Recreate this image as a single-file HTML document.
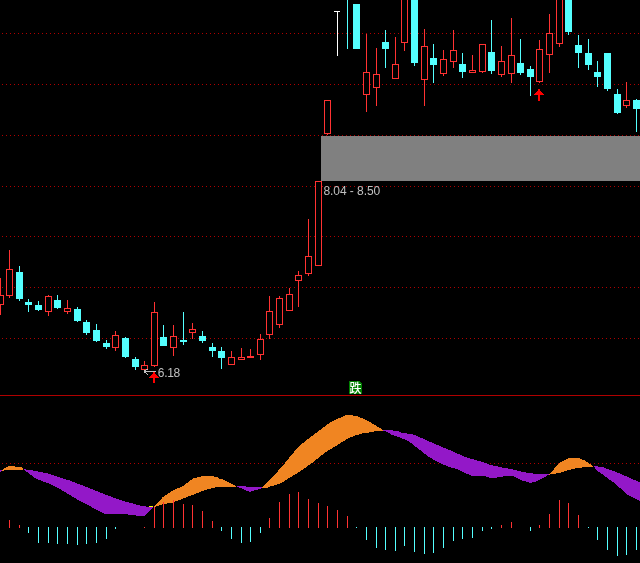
<!DOCTYPE html>
<html><head><meta charset="utf-8"><title>chart</title>
<style>
html,body{margin:0;padding:0;background:#000;}
body{width:640px;height:563px;overflow:hidden;}
svg{display:block;font-family:"Liberation Sans","Noto Sans CJK SC",sans-serif;}
</style></head><body>
<svg width="640" height="563" viewBox="0 0 640 563" shape-rendering="crispEdges">
<rect x="0" y="0" width="640" height="563" fill="#000"/>
<line x1="2" y1="33.5" x2="640" y2="33.5" stroke="#b00000" stroke-width="1" stroke-dasharray="1 3"/>
<line x1="2" y1="84.5" x2="640" y2="84.5" stroke="#b00000" stroke-width="1" stroke-dasharray="1 3"/>
<line x1="2" y1="135.5" x2="640" y2="135.5" stroke="#b00000" stroke-width="1" stroke-dasharray="1 3"/>
<line x1="2" y1="186.5" x2="640" y2="186.5" stroke="#b00000" stroke-width="1" stroke-dasharray="1 3"/>
<line x1="2" y1="236.5" x2="640" y2="236.5" stroke="#b00000" stroke-width="1" stroke-dasharray="1 3"/>
<line x1="2" y1="287.5" x2="640" y2="287.5" stroke="#b00000" stroke-width="1" stroke-dasharray="1 3"/>
<line x1="2" y1="338.5" x2="640" y2="338.5" stroke="#b00000" stroke-width="1" stroke-dasharray="1 3"/>
<line x1="2" y1="463.5" x2="640" y2="463.5" stroke="#b00000" stroke-width="1" stroke-dasharray="1 3"/>
<rect x="321" y="136" width="319" height="45" fill="#808080"/>
<rect x="0" y="395" width="640" height="1" fill="#b00000"/>
<polygon points="2,470 5.25,468 9.2,466 14.4,466 15.75,467 20.5,467 23.2,468 23.2,470 6,470 2,471" fill="#f08522"/>
<polygon points="23,469 34,470.6 40,472 50,474 60,477.5 70,480.6 80,484.5 100,492.5 120,500 140,505.6 149,507 153.75,506.5 153.75,506.5 144.4,516 140,516 131,514.75 121,514 105,514 92.5,507.5 80,501 70,495 60,489 50,484 36,478.75 23,469" fill="#9318c8"/>
<polygon points="154,506 162.5,497.5 172.5,490.6 182.5,486.25 192.5,478.75 202.5,476 212.5,476 217,477.2 220,479 222.5,479 230,483 236.2,486 236.2,487 226,487 220,486.6 212.5,488 202.5,491 192.5,495 182.5,498.75 172.5,502.5 163.75,504 154,507" fill="#f08522"/>
<polygon points="236.2,486 245.8,486 245.8,487 262,487 262,488 256,490 249.75,492 243,489.2 236.2,486" fill="#9318c8"/>
<polygon points="262,487 271,478.75 282.5,466 292.5,453.75 300,445.3 310,437.5 320,430 330,422.5 337.5,418.75 346,415.25 351,415.25 357.5,416.25 367.5,420.6 375,425 383,430 383,431 374,431 374,432 369,432 369,433 365,433 362,433.6 355,435.6 347.5,438.75 337.5,445 325,452.5 312.5,462.5 300,471.5 290,477.5 280,483.75 271,486.3 266.5,488 262,488" fill="#f08522"/>
<polygon points="383,430 391.4,430.3 397.5,431 402,433 411.5,434 416,435.5 426,440 437.5,445 452.5,451.25 465,457 477.5,460.6 486,463 490,464.75 502.5,467.5 512.5,469.4 522.5,472 535,473.75 548.75,474.4 548.75,474.75 537,481.25 530.6,483 522.5,480.6 513,476.25 505,476.25 495.6,477.75 490,477.75 484,476 471,475.6 457.5,469.4 447.5,466.25 437.5,462 427.5,456 420,450 416.75,447.6 411.5,443.25 407,440.2 401,438 392.25,435 387,432 383,430.3" fill="#9318c8"/>
<polygon points="548.75,474.5 560,462.75 568.75,458 579,458 585,460.6 593.2,466 593.2,467 585,467 576,468.3 568,470.3 560,472.8 548.75,474.75" fill="#f08522"/>
<polygon points="593.2,466 601.5,466.8 613,470.75 623.4,475 633,479.5 640,482.3 640,500.75 633,497.4 627,494.4 620.75,488.7 613,482 606,477 598,471.2 593.2,466" fill="#9318c8"/>
<polygon points="0,470 2,470 2,471 0,472" fill="#9318c8"/>
<rect x="149" y="506" width="4" height="1" fill="#ffff00"/>
<rect x="0" y="278" width="1" height="37" fill="#ff3232"/>
<rect x="-2.5" y="295.5" width="6" height="9" fill="#000" stroke="#ff3232" stroke-width="1"/>
<rect x="9" y="250" width="1" height="48" fill="#ff3232"/>
<rect x="6.5" y="269.5" width="6" height="26" fill="#000" stroke="#ff3232" stroke-width="1"/>
<rect x="19" y="266" width="1" height="35" fill="#54ffff"/>
<rect x="16" y="272" width="7" height="27" fill="#54ffff"/>
<rect x="28" y="299" width="1" height="13" fill="#54ffff"/>
<rect x="25" y="302" width="7" height="3" fill="#54ffff"/>
<rect x="38" y="301" width="1" height="10" fill="#54ffff"/>
<rect x="35" y="305" width="7" height="5" fill="#54ffff"/>
<rect x="48" y="295" width="1" height="21" fill="#ff3232"/>
<rect x="45.5" y="296.5" width="6" height="15" fill="#000" stroke="#ff3232" stroke-width="1"/>
<rect x="57" y="295" width="1" height="14" fill="#54ffff"/>
<rect x="54" y="300" width="7" height="8" fill="#54ffff"/>
<rect x="67" y="300" width="1" height="14" fill="#ff3232"/>
<rect x="64.5" y="308.5" width="6" height="3" fill="#000" stroke="#ff3232" stroke-width="1"/>
<rect x="77" y="307" width="1" height="15" fill="#54ffff"/>
<rect x="74" y="309" width="7" height="12" fill="#54ffff"/>
<rect x="86" y="320" width="1" height="15" fill="#54ffff"/>
<rect x="83" y="322" width="7" height="11" fill="#54ffff"/>
<rect x="96" y="324" width="1" height="18" fill="#54ffff"/>
<rect x="93" y="330" width="7" height="11" fill="#54ffff"/>
<rect x="106" y="340" width="1" height="9" fill="#54ffff"/>
<rect x="103" y="343" width="7" height="4" fill="#54ffff"/>
<rect x="115" y="331" width="1" height="20" fill="#ff3232"/>
<rect x="112.5" y="335.5" width="6" height="12" fill="#000" stroke="#ff3232" stroke-width="1"/>
<rect x="125" y="337" width="1" height="21" fill="#54ffff"/>
<rect x="122" y="338" width="7" height="19" fill="#54ffff"/>
<rect x="135" y="357" width="1" height="13" fill="#54ffff"/>
<rect x="132" y="359" width="7" height="8" fill="#54ffff"/>
<rect x="144" y="361" width="1" height="10" fill="#ff3232"/>
<rect x="141.5" y="365.5" width="6" height="4" fill="#000" stroke="#ff3232" stroke-width="1"/>
<rect x="154" y="302" width="1" height="65" fill="#ff3232"/>
<rect x="151.5" y="312.5" width="6" height="53" fill="#000" stroke="#ff3232" stroke-width="1"/>
<rect x="163" y="325" width="1" height="21" fill="#54ffff"/>
<rect x="160" y="337" width="7" height="9" fill="#54ffff"/>
<rect x="173" y="325" width="1" height="31" fill="#ff3232"/>
<rect x="170.5" y="336.5" width="6" height="11" fill="#000" stroke="#ff3232" stroke-width="1"/>
<rect x="183" y="312" width="1" height="33" fill="#54ffff"/>
<rect x="180" y="340" width="7" height="2" fill="#54ffff"/>
<rect x="192" y="323" width="1" height="16" fill="#ff3232"/>
<rect x="189.5" y="329.5" width="6" height="3" fill="#000" stroke="#ff3232" stroke-width="1"/>
<rect x="202" y="331" width="1" height="12" fill="#54ffff"/>
<rect x="199" y="336" width="7" height="5" fill="#54ffff"/>
<rect x="212" y="343" width="1" height="14" fill="#54ffff"/>
<rect x="209" y="347" width="7" height="4" fill="#54ffff"/>
<rect x="221" y="347" width="1" height="22" fill="#54ffff"/>
<rect x="218" y="351" width="7" height="7" fill="#54ffff"/>
<rect x="231" y="351" width="1" height="14" fill="#ff3232"/>
<rect x="228.5" y="357.5" width="6" height="7" fill="#000" stroke="#ff3232" stroke-width="1"/>
<rect x="241" y="348" width="1" height="12" fill="#ff3232"/>
<rect x="238.5" y="357.5" width="6" height="2" fill="#000" stroke="#ff3232" stroke-width="1"/>
<rect x="250" y="349" width="1" height="9" fill="#ff3232"/>
<rect x="247" y="356" width="7" height="2" fill="#ff3232"/>
<rect x="260" y="334" width="1" height="26" fill="#ff3232"/>
<rect x="257.5" y="339.5" width="6" height="15" fill="#000" stroke="#ff3232" stroke-width="1"/>
<rect x="269" y="296" width="1" height="43" fill="#ff3232"/>
<rect x="266.5" y="311.5" width="6" height="23" fill="#000" stroke="#ff3232" stroke-width="1"/>
<rect x="279" y="296" width="1" height="32" fill="#ff3232"/>
<rect x="276.5" y="298.5" width="6" height="26" fill="#000" stroke="#ff3232" stroke-width="1"/>
<rect x="289" y="288" width="1" height="23" fill="#ff3232"/>
<rect x="286.5" y="294.5" width="6" height="16" fill="#000" stroke="#ff3232" stroke-width="1"/>
<rect x="298" y="271" width="1" height="36" fill="#ff3232"/>
<rect x="295.5" y="275.5" width="6" height="5" fill="#000" stroke="#ff3232" stroke-width="1"/>
<rect x="308" y="219" width="1" height="57" fill="#ff3232"/>
<rect x="305.5" y="256.5" width="6" height="17" fill="#000" stroke="#ff3232" stroke-width="1"/>
<rect x="318" y="181" width="1" height="85" fill="#ff3232"/>
<rect x="315.5" y="181.5" width="6" height="84" fill="#000" stroke="#ff3232" stroke-width="1"/>
<rect x="327" y="100" width="1" height="35" fill="#ff3232"/>
<rect x="324.5" y="100.5" width="6" height="33" fill="#000" stroke="#ff3232" stroke-width="1"/>
<rect x="347" y="0" width="1" height="49" fill="#54ffff"/>
<rect x="356" y="4" width="1" height="45" fill="#54ffff"/>
<rect x="353" y="4" width="7" height="45" fill="#54ffff"/>
<rect x="366" y="34" width="1" height="78" fill="#ff3232"/>
<rect x="363.5" y="72.5" width="6" height="22" fill="#000" stroke="#ff3232" stroke-width="1"/>
<rect x="376" y="48" width="1" height="58" fill="#ff3232"/>
<rect x="373.5" y="74.5" width="6" height="13" fill="#000" stroke="#ff3232" stroke-width="1"/>
<rect x="385" y="30" width="1" height="38" fill="#54ffff"/>
<rect x="382" y="42" width="7" height="7" fill="#54ffff"/>
<rect x="395" y="37" width="1" height="42" fill="#ff3232"/>
<rect x="392.5" y="64.5" width="6" height="14" fill="#000" stroke="#ff3232" stroke-width="1"/>
<rect x="404" y="-5" width="1" height="56" fill="#ff3232"/>
<rect x="401.5" y="-4.5" width="6" height="47" fill="#000" stroke="#ff3232" stroke-width="1"/>
<rect x="414" y="-5" width="1" height="71" fill="#54ffff"/>
<rect x="411" y="-5" width="7" height="68" fill="#54ffff"/>
<rect x="424" y="29" width="1" height="77" fill="#ff3232"/>
<rect x="421.5" y="46.5" width="6" height="33" fill="#000" stroke="#ff3232" stroke-width="1"/>
<rect x="433" y="44" width="1" height="39" fill="#54ffff"/>
<rect x="430" y="58" width="7" height="7" fill="#54ffff"/>
<rect x="443" y="50" width="1" height="26" fill="#ff3232"/>
<rect x="440.5" y="59.5" width="6" height="14" fill="#000" stroke="#ff3232" stroke-width="1"/>
<rect x="453" y="30" width="1" height="38" fill="#ff3232"/>
<rect x="450.5" y="50.5" width="6" height="11" fill="#000" stroke="#ff3232" stroke-width="1"/>
<rect x="462" y="53" width="1" height="25" fill="#54ffff"/>
<rect x="459" y="64" width="7" height="8" fill="#54ffff"/>
<rect x="472" y="55" width="1" height="18" fill="#ff3232"/>
<rect x="469.5" y="70.5" width="6" height="2" fill="#000" stroke="#ff3232" stroke-width="1"/>
<rect x="482" y="44" width="1" height="29" fill="#ff3232"/>
<rect x="479.5" y="44.5" width="6" height="27" fill="#000" stroke="#ff3232" stroke-width="1"/>
<rect x="491" y="20" width="1" height="54" fill="#54ffff"/>
<rect x="488" y="52" width="7" height="19" fill="#54ffff"/>
<rect x="501" y="46" width="1" height="31" fill="#ff3232"/>
<rect x="498.5" y="61.5" width="6" height="13" fill="#000" stroke="#ff3232" stroke-width="1"/>
<rect x="511" y="18" width="1" height="65" fill="#ff3232"/>
<rect x="508.5" y="55.5" width="6" height="18" fill="#000" stroke="#ff3232" stroke-width="1"/>
<rect x="520" y="39" width="1" height="36" fill="#54ffff"/>
<rect x="517" y="63" width="7" height="10" fill="#54ffff"/>
<rect x="530" y="66" width="1" height="30" fill="#54ffff"/>
<rect x="527" y="69" width="7" height="8" fill="#54ffff"/>
<rect x="539" y="40" width="1" height="43" fill="#ff3232"/>
<rect x="536.5" y="49.5" width="6" height="32" fill="#000" stroke="#ff3232" stroke-width="1"/>
<rect x="549" y="14" width="1" height="59" fill="#ff3232"/>
<rect x="546.5" y="33.5" width="6" height="21" fill="#000" stroke="#ff3232" stroke-width="1"/>
<rect x="559" y="-5" width="1" height="52" fill="#ff3232"/>
<rect x="556.5" y="-4.5" width="6" height="48" fill="#000" stroke="#ff3232" stroke-width="1"/>
<rect x="568" y="-5" width="1" height="40" fill="#54ffff"/>
<rect x="565" y="-5" width="7" height="37" fill="#54ffff"/>
<rect x="578" y="35" width="1" height="33" fill="#54ffff"/>
<rect x="575" y="45" width="7" height="8" fill="#54ffff"/>
<rect x="588" y="39" width="1" height="31" fill="#54ffff"/>
<rect x="585" y="53" width="7" height="12" fill="#54ffff"/>
<rect x="597" y="61" width="1" height="26" fill="#54ffff"/>
<rect x="594" y="72" width="7" height="5" fill="#54ffff"/>
<rect x="607" y="53" width="1" height="38" fill="#54ffff"/>
<rect x="604" y="53" width="7" height="36" fill="#54ffff"/>
<rect x="617" y="89" width="1" height="25" fill="#54ffff"/>
<rect x="614" y="94" width="7" height="19" fill="#54ffff"/>
<rect x="626" y="82" width="1" height="26" fill="#ff3232"/>
<rect x="623.5" y="100.5" width="6" height="5" fill="#000" stroke="#ff3232" stroke-width="1"/>
<rect x="636" y="99" width="1" height="33" fill="#54ffff"/>
<rect x="633" y="100" width="7" height="9" fill="#54ffff"/>
<rect x="337" y="11" width="1" height="45" fill="#fff"/>
<rect x="334" y="11" width="6" height="1" fill="#fff"/>
<rect x="9" y="520" width="1" height="8" fill="#ff3232"/>
<rect x="19" y="525" width="1" height="3" fill="#ff3232"/>
<rect x="144" y="527" width="1" height="1" fill="#ff3232"/>
<rect x="154" y="507" width="1" height="21" fill="#ff3232"/>
<rect x="163" y="502" width="1" height="26" fill="#ff3232"/>
<rect x="173" y="500" width="1" height="28" fill="#ff3232"/>
<rect x="183" y="504" width="1" height="24" fill="#ff3232"/>
<rect x="192" y="505" width="1" height="23" fill="#ff3232"/>
<rect x="202" y="511" width="1" height="17" fill="#ff3232"/>
<rect x="212" y="521" width="1" height="7" fill="#ff3232"/>
<rect x="269" y="518" width="1" height="10" fill="#ff3232"/>
<rect x="279" y="502" width="1" height="26" fill="#ff3232"/>
<rect x="289" y="494" width="1" height="34" fill="#ff3232"/>
<rect x="298" y="492" width="1" height="36" fill="#ff3232"/>
<rect x="308" y="499" width="1" height="29" fill="#ff3232"/>
<rect x="318" y="503" width="1" height="25" fill="#ff3232"/>
<rect x="327" y="506" width="1" height="22" fill="#ff3232"/>
<rect x="337" y="510" width="1" height="18" fill="#ff3232"/>
<rect x="347" y="516" width="1" height="12" fill="#ff3232"/>
<rect x="501" y="525" width="1" height="3" fill="#ff3232"/>
<rect x="511" y="522" width="1" height="6" fill="#ff3232"/>
<rect x="539" y="525" width="1" height="3" fill="#ff3232"/>
<rect x="549" y="514" width="1" height="14" fill="#ff3232"/>
<rect x="559" y="500" width="1" height="28" fill="#ff3232"/>
<rect x="568" y="503" width="1" height="25" fill="#ff3232"/>
<rect x="578" y="515" width="1" height="13" fill="#ff3232"/>
<rect x="28" y="527" width="1" height="6" fill="#54ffff"/>
<rect x="38" y="527" width="1" height="16" fill="#54ffff"/>
<rect x="48" y="527" width="1" height="16" fill="#54ffff"/>
<rect x="57" y="527" width="1" height="17" fill="#54ffff"/>
<rect x="67" y="527" width="1" height="17" fill="#54ffff"/>
<rect x="77" y="527" width="1" height="18" fill="#54ffff"/>
<rect x="86" y="527" width="1" height="17" fill="#54ffff"/>
<rect x="96" y="527" width="1" height="16" fill="#54ffff"/>
<rect x="106" y="527" width="1" height="12" fill="#54ffff"/>
<rect x="115" y="527" width="1" height="2" fill="#54ffff"/>
<rect x="221" y="527" width="1" height="4" fill="#54ffff"/>
<rect x="231" y="527" width="1" height="12" fill="#54ffff"/>
<rect x="241" y="527" width="1" height="16" fill="#54ffff"/>
<rect x="250" y="527" width="1" height="15" fill="#54ffff"/>
<rect x="260" y="527" width="1" height="6" fill="#54ffff"/>
<rect x="356" y="527" width="1" height="1" fill="#54ffff"/>
<rect x="366" y="527" width="1" height="13" fill="#54ffff"/>
<rect x="376" y="527" width="1" height="21" fill="#54ffff"/>
<rect x="385" y="527" width="1" height="23" fill="#54ffff"/>
<rect x="395" y="527" width="1" height="24" fill="#54ffff"/>
<rect x="404" y="527" width="1" height="19" fill="#54ffff"/>
<rect x="414" y="527" width="1" height="25" fill="#54ffff"/>
<rect x="424" y="527" width="1" height="27" fill="#54ffff"/>
<rect x="433" y="527" width="1" height="26" fill="#54ffff"/>
<rect x="443" y="527" width="1" height="21" fill="#54ffff"/>
<rect x="453" y="527" width="1" height="14" fill="#54ffff"/>
<rect x="462" y="527" width="1" height="12" fill="#54ffff"/>
<rect x="472" y="527" width="1" height="11" fill="#54ffff"/>
<rect x="482" y="527" width="1" height="4" fill="#54ffff"/>
<rect x="491" y="527" width="1" height="2" fill="#54ffff"/>
<rect x="530" y="527" width="1" height="4" fill="#54ffff"/>
<rect x="588" y="527" width="1" height="1" fill="#54ffff"/>
<rect x="597" y="527" width="1" height="13" fill="#54ffff"/>
<rect x="607" y="527" width="1" height="23" fill="#54ffff"/>
<rect x="617" y="527" width="1" height="29" fill="#54ffff"/>
<rect x="626" y="527" width="1" height="28" fill="#54ffff"/>
<rect x="636" y="527" width="1" height="23" fill="#54ffff"/>
<rect x="538" y="89" width="2" height="1" fill="#ff0000"/>
<rect x="538" y="90" width="2" height="1" fill="#ff0000"/>
<rect x="537" y="91" width="4" height="1" fill="#ff0000"/>
<rect x="536" y="92" width="6" height="1" fill="#ff0000"/>
<rect x="535" y="93" width="8" height="1" fill="#ff0000"/>
<rect x="534" y="94" width="10" height="1" fill="#ff0000"/>
<rect x="538" y="95" width="2" height="6" fill="#ff0000"/>
<rect x="153" y="372" width="2" height="1" fill="#ff0000"/>
<rect x="153" y="373" width="2" height="1" fill="#ff0000"/>
<rect x="152" y="374" width="4" height="1" fill="#ff0000"/>
<rect x="151" y="375" width="6" height="1" fill="#ff0000"/>
<rect x="150" y="376" width="8" height="1" fill="#ff0000"/>
<rect x="149" y="377" width="10" height="1" fill="#ff0000"/>
<rect x="153" y="378" width="2" height="5" fill="#ff0000"/>
<rect x="144" y="371" width="12" height="1" fill="#c0c0c0"/>
<rect x="144" y="370" width="1" height="1" fill="#c0c0c0"/>
<rect x="145" y="370" width="1" height="1" fill="#c0c0c0"/>
<rect x="146" y="369" width="1" height="1" fill="#c0c0c0"/>
<rect x="147" y="369" width="1" height="1" fill="#c0c0c0"/>
<rect x="144" y="372" width="1" height="1" fill="#c0c0c0"/>
<rect x="145" y="372" width="1" height="1" fill="#c0c0c0"/>
<rect x="146" y="373" width="1" height="1" fill="#c0c0c0"/>
<rect x="147" y="374" width="1" height="1" fill="#c0c0c0"/>
<text x="323.4" y="195" font-size="12" letter-spacing="-0.05" fill="#c0c0c0">8.04 - 8.50</text>
<text x="157.8" y="377" font-size="12" letter-spacing="-0.3" fill="#c0c0c0">6.18</text>
<polygon points="349,381 359,381 362,384 362,394 349,394" fill="#008000"/>
<text x="349.6" y="393" font-size="12" fill="#fff" font-weight="500" style="font-family:'Liberation Sans','Noto Sans CJK SC',sans-serif">跌</text>
</svg>
</body></html>
